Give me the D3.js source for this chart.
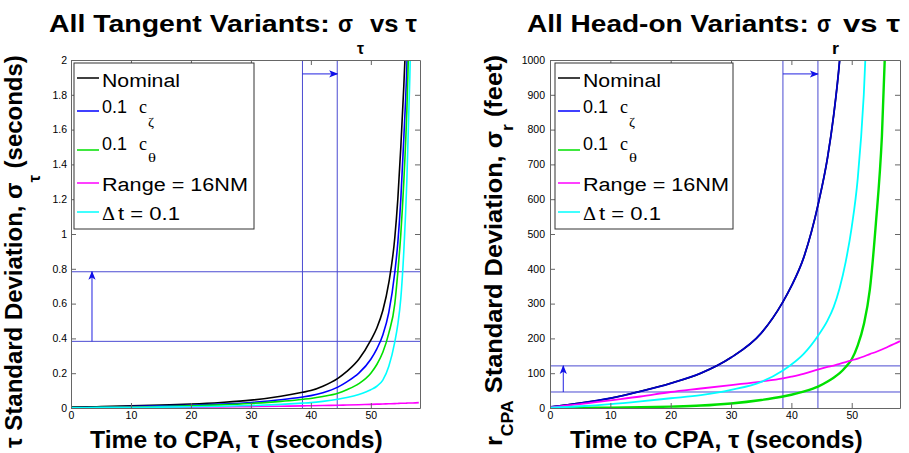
<!DOCTYPE html>
<html><head><meta charset="utf-8">
<script src="https://cdn.jsdelivr.net/npm/d3@7"></script>
<style>body{margin:0;background:#fff} svg{display:block}</style>
</head><body><svg id="c" width="909" height="453"></svg>
<script>
// ---------- DATA ----------
const tauL = [0,5,10,15,20,25,30,35,38.6,40,42,44.5,46,48,50,51,52,53,54,54.5,55,55.5,56,56.5,57,58];
const nominalL = [0.005,0.008,0.012,0.017,0.023,0.032,0.045,0.068,0.09,0.1,0.125,0.17,0.21,0.28,0.39,0.46,0.56,0.72,0.98,1.2,1.5,1.85,2.3,3.0,4.0,6.0];
const czetaL   = [0.003,0.005,0.008,0.012,0.016,0.022,0.032,0.047,0.063,0.071,0.088,0.12,0.15,0.2,0.28,0.34,0.42,0.55,0.78,0.95,1.2,1.55,1.95,2.6,3.5,5.0];
const cthetaL  = [0.002,0.004,0.006,0.009,0.013,0.018,0.026,0.038,0.05,0.055,0.066,0.085,0.105,0.14,0.2,0.25,0.32,0.43,0.6,0.78,1.0,1.3,1.7,2.3,3.2,5.0];
const range16L = [0,0.001,0.002,0.003,0.005,0.006,0.008,0.01,0.012,0.013,0.014,0.016,0.017,0.019,0.021,0.022,0.023,0.024,0.025,0.026,0.027,0.027,0.028,0.029,0.029,0.031];
const dtL      = [0.001,0.002,0.003,0.005,0.007,0.01,0.014,0.021,0.028,0.031,0.038,0.05,0.06,0.078,0.105,0.125,0.16,0.24,0.38,0.48,0.63,0.9,1.3,1.9,2.7,5.0];

const tauR = [0,5,10,15,20,25,30,35,38.6,40,42,44.5,46,47,48,49,50,51,52,53,54,55,56,57,58];
const nominalR = [3,14,28,48,71,100,145,215,305,350,430,590,720,840,1000,1250,1600,2100,2700,3400,4200,5000,6000,7000,8000];
const czetaR   = [3,14,28,48,71,100,145,215,305,350,430,590,720,840,1000,1250,1600,2100,2700,3400,4200,5000,6000,7000,8000];
const cthetaR  = [0,0.5,1,2,4,7,13,23,33,38,47,62,76,87,100,118,140,180,240,340,530,780,1250,1900,2700];
const range16R = [2,11,22,33,46,56,66,76,85,90,98,111,118,122,127,132,137,142,148,155,161,168,176,184,192];
const dtR      = [1,5,11,19,28,37,52,75,108,125,155,210,252,290,345,420,520,660,900,1300,1800,2400,3000,3800,4600];

const xTicks = [0,10,20,30,40,50];
const xTickLabels = ["0","10","20","30","40","50"];
const yTicksL = [0,0.2,0.4,0.6,0.8,1,1.2,1.4,1.6,1.8,2];
const yTickLabelsL = ["0","0.2","0.4","0.6","0.8","1","1.2","1.4","1.6","1.8","2"];
const yTicksR = [0,100,200,300,400,500,600,700,800,900,1000];
const yTickLabelsR = ["0","100","200","300","400","500","600","700","800","900","1000"];

const refTau = [38.6, 44.4];
const refSigL = [0.383, 0.783];
const refSigR = [46, 121];
const arrowTopL = 1.92, arrowTopR = 960;
const arrowUpTauL = 3.5, arrowUpTauR = 2.2;

const seriesNames = ["Nominal","0.1 cζ","0.1 cθ","Range = 16NM","Δ t = 0.1"];
const seriesColors = ["#000000","#0000ff","#00e000","#ff00ff","#00ffff"];

// ---------- DRAW ----------
const svg = d3.select("#c");
const FONT = "'Liberation Sans', Arial, Helvetica, sans-serif";
const SERIF = "'Liberation Serif', 'Times New Roman', serif";

const defs = svg.append("defs");
defs.append("marker").attr("id","arr").attr("viewBox","0 -5 10 10")
  .attr("refX",9).attr("refY",0).attr("markerWidth",9).attr("markerHeight",9)
  .attr("markerUnits","userSpaceOnUse").attr("orient","auto")
  .append("path").attr("d","M0,-4L10,0L0,4L2.5,0Z").attr("fill","#1010e8");

// text fitted horizontally between x0 and x1 (baseline y)
function fit(parent, x0, x1, y, str, o) {
  const t = parent.append("text")
    .attr("font-family", o.fam || FONT).attr("font-size", o.size)
    .attr("font-weight", o.bold ? "bold" : "normal").attr("fill","#000").text(str);
  const len = t.node().getComputedTextLength();
  t.attr("transform", `translate(${x0},${y}) scale(${(x1 - x0) / len},1)`);
  return t;
}

function panel(cfg) {
  const x = d3.scaleLinear().domain([0, cfg.xmax]).range([cfg.left, cfg.right]);
  const y = d3.scaleLinear().domain([0, cfg.ymax]).range([cfg.bottom, cfg.top]);
  const g = svg.append("g");
  const cid = "clip" + cfg.id;
  defs.append("clipPath").attr("id", cid).append("rect")
    .attr("x", cfg.left).attr("y", cfg.top)
    .attr("width", cfg.right - cfg.left).attr("height", cfg.bottom - cfg.top);
  const plot = g.append("g").attr("clip-path", `url(#${cid})`);

  // reference lines
  const refCol = "#4b4bd2";
  cfg.refSig.forEach(v => plot.append("line")
    .attr("x1", cfg.left).attr("x2", cfg.right).attr("y1", y(v)).attr("y2", y(v))
    .attr("stroke", refCol).attr("stroke-width", 1));
  refTau.forEach(v => plot.append("line")
    .attr("y1", cfg.top).attr("y2", cfg.bottom).attr("x1", x(v)).attr("x2", x(v))
    .attr("stroke", refCol).attr("stroke-width", 1));

  // series
  const line = d3.line().x((d,i)=>x(cfg.tau[i])).y(d=>y(d)).curve(d3.curveMonotoneX);
  cfg.series.forEach((s, k) => {
    plot.append("path").attr("d", line(s)).attr("fill","none")
      .attr("stroke", cfg.colors[k]).attr("stroke-width", cfg.widths[k]);
  });

  // arrows
  plot.append("line").attr("x1", x(refTau[0])).attr("x2", x(refTau[1]))
    .attr("y1", y(cfg.arrowTop)).attr("y2", y(cfg.arrowTop))
    .attr("stroke","#2020e0").attr("stroke-width",1).attr("marker-end","url(#arr)");
  plot.append("line").attr("x1", x(cfg.arrowTau)).attr("x2", x(cfg.arrowTau))
    .attr("y1", y(cfg.refSig[0])).attr("y2", y(cfg.refSig[1]))
    .attr("stroke","#2020e0").attr("stroke-width",1).attr("marker-end","url(#arr)");

  // axes (Matlab style: inward ticks, box)
  const axCol = "#666";
  const ax = (gen, tr) => {
    const a = g.append("g").attr("transform", tr).call(gen);
    a.select(".domain").attr("stroke", axCol);
    a.selectAll(".tick line").attr("stroke", axCol);
    a.selectAll("text").attr("font-family", FONT).attr("font-size", 10.5).attr("fill","#000");
    return a;
  };
  ax(d3.axisBottom(x).tickValues(xTicks).tickSize(-5).tickPadding(4).tickSizeOuter(0)
      .tickFormat((d,i)=>xTickLabels[i]), `translate(0,${cfg.bottom})`);
  ax(d3.axisTop(x).tickValues(xTicks).tickSize(-5).tickSizeOuter(0).tickFormat(""), `translate(0,${cfg.top})`);
  ax(d3.axisLeft(y).tickValues(cfg.yTicks).tickSize(-5).tickPadding(cfg.ypad).tickSizeOuter(0)
      .tickFormat((d,i)=>cfg.yLabels[i]), `translate(${cfg.left},0)`);
  ax(d3.axisRight(y).tickValues(cfg.yTicks).tickSize(-5).tickSizeOuter(0).tickFormat(""), `translate(${cfg.right},0)`);

  // legend
  const lx = cfg.legX;
  const L = g.append("g");
  L.append("rect").attr("x",lx).attr("y",63).attr("width",cfg.legW).attr("height",166)
    .attr("fill","#fff").attr("stroke","#333").attr("stroke-width",1);
  const lineY = [78, 111, 150, 183, 212];
  lineY.forEach((ly,k)=> L.append("line").attr("x1",lx+3).attr("x2",lx+25).attr("y1",ly).attr("y2",ly)
    .attr("stroke", seriesColors[k]).attr("stroke-width",1.5));
  const tx = lx + 28;
  fit(L, tx, tx+78, 87, seriesNames[0], {size:19});
  fit(L, tx, tx+25, 113, "0.1", {size:19});
  fit(L, tx+37, tx+45, 113, "c", {size:19, fam:SERIF});
  fit(L, tx+46, tx+52, 126, "ζ", {size:12, fam:SERIF});
  fit(L, tx, tx+25, 150, "0.1", {size:19});
  fit(L, tx+37, tx+45, 150, "c", {size:19, fam:SERIF});
  fit(L, tx+46, tx+54, 162, "θ", {size:12, fam:SERIF});
  fit(L, tx, tx+146, 191, seriesNames[3], {size:19});
  fit(L, tx, tx+13, 220, "Δ", {size:19, fam:SERIF});
  fit(L, tx+16, tx+78, 220, "t = 0.1", {size:19});

  // title
  const tt = cfg.title;
  fit(svg, tt.x[0], tt.x[1], 32, tt.s[0], {size:24, bold:true});
  fit(svg, tt.x[2], tt.x[3], 32, "σ", {size:24, bold:true});
  fit(svg, tt.x[4], tt.x[5], 54, tt.s[1], {size:16, bold:true});
  fit(svg, tt.x[6], tt.x[7], 32, "vs τ", {size:24, bold:true});

  // x label
  fit(svg, cfg.xlab[0], cfg.xlab[1], 448, "Time to CPA, τ (seconds)", {size:23, bold:true});

  // y label (rotated, fitted from bottom to top)
  const Y = svg.append("text").attr("font-family", FONT).attr("font-weight","bold").attr("font-size", 23);
  cfg.ylab.forEach(p => Y.append("tspan").attr("dy", p.dy).attr("font-size", p.fs).text(p.s));
  const ylen = Y.node().getComputedTextLength();
  Y.attr("transform", `translate(${cfg.ylabX},${cfg.ylabY0}) rotate(-90) scale(${(cfg.ylabY0 - cfg.ylabY1)/ylen},1)`);
}

panel({id:"L", left:71, right:420, top:60, bottom:408, xmax:58.2, ymax:2,
  tau: tauL, series:[nominalL, czetaL, cthetaL, range16L, dtL],
  colors: seriesColors, widths:[1.6,1.6,1.6,1.6,1.6],
  yTicks: yTicksL, yLabels: yTickLabelsL, ypad:4,
  refSig: refSigL, arrowTop: arrowTopL, arrowTau: arrowUpTauL,
  legX:74, legW:180,
  title:{s:["All Tangent Variants:","τ"], x:[49,330,338,353,357,364,370,417]},
  xlab:[90,383], ylabX:22, ylabY0:448, ylabY1:55,
  ylab:[{s:"τ Standard Deviation, σ",dy:0,fs:23},{s:"τ",dy:18,fs:16},{s:" (seconds)",dy:-18,fs:23}]
});
panel({id:"R", left:550, right:900, top:60, bottom:408, xmax:58, ymax:1000,
  tau: tauR, series:[nominalR, czetaR, cthetaR, range16R, dtR],
  colors: ["#000000","#0000c8","#00e000","#ff00ff","#00ffff"], widths:[1.6,1.8,2.4,1.8,1.8],
  yTicks: yTicksR, yLabels: yTickLabelsR, ypad:5,
  refSig: refSigR, arrowTop: arrowTopR, arrowTau: arrowUpTauR,
  legX:555, legW:178,
  title:{s:["All Head-on Variants:","r"], x:[527,809,817,831,832,839,843,900]},
  xlab:[570,863], ylabX:502, ylabY0:446, ylabY1:55,
  ylab:[{s:"r",dy:0,fs:23},{s:"CPA",dy:11,fs:16},{s:" Standard Deviation, σ",dy:-11,fs:23},{s:"r",dy:11,fs:16},{s:" (feet)",dy:-11,fs:23}]
});
</script></body></html>
